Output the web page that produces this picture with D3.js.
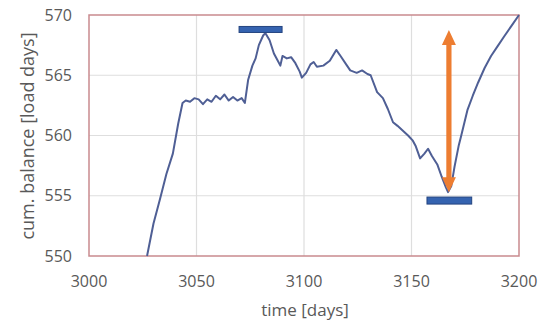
<!DOCTYPE html>
<html>
<head>
<meta charset="utf-8">
<title>cum. balance</title>
<script src="https://d3js.org/d3.v7.min.js"></script>
<style>
  body { margin: 0; background: #fff; }
  text { font-family: "Open Sans", sans-serif; fill: #595959; }
</style>
</head>
<body>
<script>
// data
const days = [3027, 3030, 3033, 3036, 3039, 3041.5, 3043.5, 3045, 3047, 3049, 3051, 3053, 3055, 3057,
  3059, 3061, 3063, 3065, 3067, 3069, 3071, 3072.5, 3074, 3076, 3077.5, 3079, 3081, 3082, 3084, 3086,
  3087.5, 3089, 3090, 3092, 3094, 3096, 3098, 3099, 3101, 3103, 3104.5, 3106, 3109, 3112, 3115, 3117,
  3120, 3121.5, 3124.5, 3127, 3129.5, 3131, 3134, 3136.7, 3139, 3141.4, 3143.5, 3146, 3148.4, 3150.5,
  3152, 3154, 3156, 3157.7, 3159.5, 3162, 3164, 3166, 3167, 3168.5, 3170, 3172, 3173, 3176, 3178.5,
  3181, 3184, 3187, 3190, 3193, 3196.5, 3200];
const balance = [550, 552.7, 554.7, 556.8, 558.5, 561, 562.7, 562.9, 562.8, 563.1, 563.0, 562.6, 563.0, 562.8,
  563.3, 563.0, 563.4, 562.9, 563.2, 562.9, 563.1, 562.7, 564.6, 565.8, 566.4, 567.5, 568.3, 568.5, 567.9, 566.8,
  566.3, 565.8, 566.6, 566.4, 566.5, 566.0, 565.3, 564.8, 565.2, 565.9, 566.1, 565.7, 565.8, 566.2, 567.1, 566.6,
  565.8, 565.4, 565.2, 565.4, 565.1, 565.0, 563.6, 563.1, 562.2, 561.1, 560.8, 560.4, 560.0, 559.6,
  559.1, 558.1, 558.5, 558.9, 558.3, 557.6, 556.6, 555.7, 555.3, 555.8, 557.4, 559.2, 559.9, 562.1, 563.3,
  564.4, 565.6, 566.6, 567.4, 568.2, 569.1, 570];
const xTicks = [3000, 3050, 3100, 3150, 3200];
const yTicks = [550, 555, 560, 565, 570];
// annotations: level bars [from, to, level] and arrow [day, top, bottom]
const maxBar = [3069.8, 3089.8, 568.8];
const minBar = [3157.2, 3178, 554.6];
const drawdown = [3167.4, 568.75, 555.3];

const W = 539, H = 323;
const svg = d3.select("body").append("svg").attr("width", W).attr("height", H);

const x = d3.scaleLinear().domain([3000, 3200]).range([89, 519]);
const y = d3.scaleLinear().domain([550, 570]).range([256, 15]);

// grid
svg.append("g").selectAll("line").data(xTicks.slice(1, -1)).enter().append("line")
  .attr("x1", d => x(d)).attr("x2", d => x(d)).attr("y1", y(570)).attr("y2", y(550))
  .attr("stroke", "#dedede").attr("stroke-width", 1.2);
svg.append("g").selectAll("line").data(yTicks.slice(1, -1)).enter().append("line")
  .attr("x1", x(3000)).attr("x2", x(3200)).attr("y1", d => y(d)).attr("y2", d => y(d))
  .attr("stroke", "#dedede").attr("stroke-width", 1.2);

// frame
svg.append("rect")
  .attr("x", x(3000)).attr("y", y(570))
  .attr("width", x(3200) - x(3000)).attr("height", y(550) - y(570))
  .attr("fill", "none").attr("stroke", "#c98a8e").attr("stroke-width", 1.5);

// tick labels
svg.append("g").selectAll("text").data(yTicks).enter().append("text")
  .attr("x", 72).attr("y", d => y(d)).attr("dy", "0.35em")
  .attr("text-anchor", "end").style("font-size", "16px")
  .text(d => d);
svg.append("g").selectAll("text").data(xTicks).enter().append("text")
  .attr("x", d => x(d)).attr("y", 281).attr("dy", "0.35em")
  .attr("text-anchor", "middle").style("font-size", "16px")
  .text(d => d);

// axis titles
svg.append("text").attr("x", 305).attr("y", 310).attr("dy", "0.35em")
  .attr("text-anchor", "middle").style("font-size", "17px").text("time [days]");
svg.append("text").attr("transform", "translate(28,136) rotate(-90)").attr("dy", "0.35em")
  .attr("text-anchor", "middle").style("font-size", "18px").text("cum. balance [load days]");

// series
const line = d3.line().x((d, i) => x(days[i])).y(d => y(d));
svg.append("path").datum(balance)
  .attr("d", line).attr("fill", "none")
  .attr("stroke", "#4f5f95").attr("stroke-width", 2).attr("stroke-linejoin", "round");

// level bars
[[maxBar, 6], [minBar, 7]].forEach(function(b) {
  const bar = b[0];
  svg.append("rect")
    .attr("x", x(bar[0])).attr("y", y(bar[2]) - b[1] / 2)
    .attr("width", x(bar[1]) - x(bar[0])).attr("height", b[1])
    .attr("fill", "#3563b0").attr("stroke", "#24447f").attr("stroke-width", 1);
});

// double arrow
const ax = x(drawdown[0]), at = y(drawdown[1]), ab = y(drawdown[2]);
const hw = 7, hl = 15, sw = 2.6;
const arrowPts = [
  [ax, at], [ax + hw, at + hl], [ax + sw, at + hl], [ax + sw, ab - hl], [ax + hw, ab - hl],
  [ax, ab], [ax - hw, ab - hl], [ax - sw, ab - hl], [ax - sw, at + hl], [ax - hw, at + hl]
];
svg.append("polygon")
  .attr("points", arrowPts.map(p => p.join(",")).join(" "))
  .attr("fill", "#ed7d31");
</script>
</body>
</html>
